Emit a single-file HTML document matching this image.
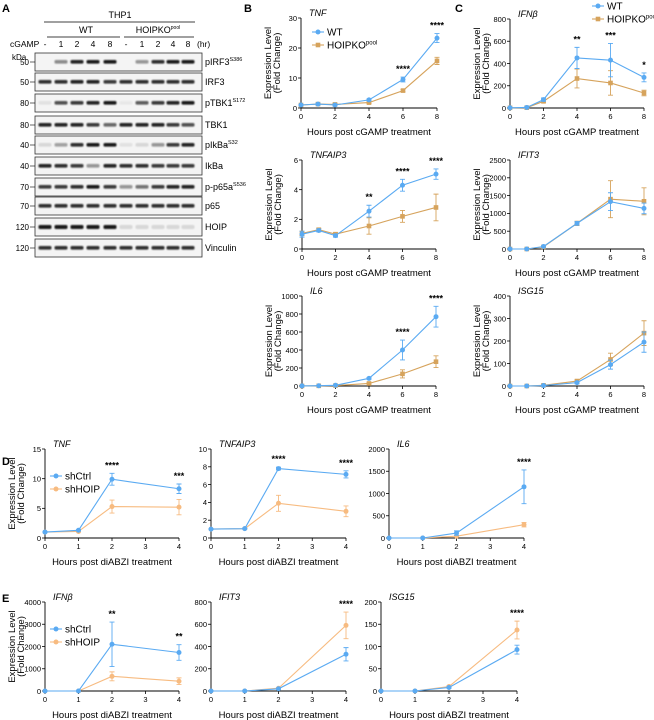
<!DOCTYPE html>
<html><head><meta charset="utf-8"><style>
html,body{margin:0;padding:0;background:#fff;}
svg{display:block;font-family:"Liberation Sans",Arial,sans-serif;}
</style></head><body>
<svg id="fig" width="654" height="720" viewBox="0 0 654 720" xmlns="http://www.w3.org/2000/svg">
<defs><filter id="bl" x="-20%" y="-50%" width="140%" height="200%"><feGaussianBlur stdDeviation="0.7"/></filter></defs>
<g font-weight="bold" font-size="11">
<text x="2" y="12">A</text><text x="244" y="12">B</text><text x="455" y="12">C</text><text x="2" y="465">D</text><text x="2" y="602">E</text>
</g>
<g id="blot"></g>
<g id="charts"></g>
</svg>
<script>
// ---- western blot data ----
const blotLabels=["pIRF3","IRF3","pTBK1","TBK1","pIkBa","IkBa","p-p65a","p65","HOIP","Vinculin"];
const blotSups=["S386","","S172","","S32","","S536","","",""];
const blotMW=["50","50","80","80","40","40","70","70","120","120"];
const blotIntensity=[
[0,.45,.9,.95,.95,0,.4,.85,.95,.95],
[.85,.85,.9,.9,.8,.85,.85,.85,.85,.85],
[.08,.7,.8,.9,.95,.05,.65,.8,.9,.95],
[.9,.9,.9,.8,.6,.9,.9,.9,.8,.7],
[.12,.35,.85,.95,.95,.08,.12,.4,.8,.9],
[.9,.85,.8,.4,.9,.85,.85,.8,.8,.8],
[.8,.8,.85,.95,.8,.4,.55,.8,.9,.9],
[.85,.85,.85,.85,.85,.85,.85,.85,.85,.85],
[.95,.95,.95,.95,.95,.12,.12,.12,.12,.12],
[.85,.85,.85,.85,.85,.85,.85,.85,.85,.85]];
const laneLabels=["-","1","2","4","8","-","1","2","4","8"];

const NS="http://www.w3.org/2000/svg";
function mk(tag,attrs,parent,txt){const e=document.createElementNS(NS,tag);for(const k in attrs)e.setAttribute(k,attrs[k]);if(txt!==undefined)e.textContent=txt;parent.appendChild(e);return e;}

const blot=document.getElementById('blot');
(function(){
 const lanes=[45,61,77,93,110,126,142,158,173,188];
 const rowsY=[53,73,94,116,136,157,178,197,218,239];
 let t=mk('text',{x:120,y:18,'font-size':9,'text-anchor':'middle'},blot,'THP1');
 
 mk('line',{x1:44,x2:195,y1:22,y2:22,stroke:'#000','stroke-width':0.7},blot);
 t=mk('text',{x:86,y:33,'font-size':9,'text-anchor':'middle'},blot,'WT');
 
 mk('line',{x1:47,x2:120,y1:37,y2:37,stroke:'#000','stroke-width':0.7},blot);
 t=mk('text',{x:158,y:33,'font-size':9,'text-anchor':'middle'},blot,'HOIPKO');
 
 mk('tspan',{'font-size':5,dy:-4},t,'pool');
 mk('line',{x1:124,x2:194,y1:37,y2:37,stroke:'#000','stroke-width':0.7},blot);
 t=mk('text',{x:10,y:47,'font-size':8.5},blot,'cGAMP');
 
 laneLabels.forEach((l,i)=>{const e=mk('text',{x:lanes[i],y:47,'font-size':8.5,'text-anchor':'middle'},blot,l);
  });
 mk('text',{x:197,y:47,'font-size':8.5},blot,'(hr)');
 mk('text',{x:12,y:60,'font-size':8},blot,'kDa');
 rowsY.forEach((y,r)=>{
  const g=mk('g',{},blot);
  
  
  mk('rect',{x:35,y:y,width:167,height:18,fill:'#f4f4f4',stroke:'#333','stroke-width':0.8},g);
  blotIntensity[r].forEach((v,i)=>{
   if(v<=0)return;
   const b=mk('rect',{x:lanes[i]-6.5,y:y+7,width:13,height:r==8?4:3.6,rx:1.5,fill:'#111',opacity:v,filter:'url(#bl)'},g);
   
  });
  mk('text',{x:29,y:y+12,'font-size':8,'text-anchor':'end'},g,blotMW[r]);
  mk('line',{x1:30,x2:35,y1:y+9,y2:y+9,stroke:'#000','stroke-width':0.6},g);
  const lt=mk('text',{x:205,y:y+12,'font-size':9},g,blotLabels[r]);
  if(blotSups[r])mk('tspan',{'font-size':5.5,dy:-4},lt,blotSups[r]);
 });
})();

// ---- chart data ----
const xCgamp=[0,1,2,4,6,8];
const xDiabzi=[0,1,2,4];
const tnfWT=[1,1.3,1,2.7,9.5,23.3], tnfWTErr=[.2,.3,.3,.3,.8,1.5];
const tnfKO=[1,1.3,1.2,1.8,5.8,15.7], tnfKOErr=[.2,.3,.3,.3,.4,1.2];
const tnfStars=["","","","","****","****"];
const ifnbWT=[2,5,75,450,430,275], ifnbWTErr=[5,5,15,95,150,40];
const ifnbKO=[2,3,60,265,225,135], ifnbKOErr=[3,3,10,85,110,25];
const ifnbStars=["","","","**","***","*"];
const tnfaip3WT=[1,1.25,.9,2.55,4.3,5.05], tnfaip3WTErr=[.2,.1,.1,.4,.4,.35];
const tnfaip3KO=[1.05,1.3,1.0,1.55,2.2,2.8], tnfaip3KOErr=[.15,.1,.1,.55,.4,.9];
const tnfaip3Stars=["","","","**","****","****"];
const ifit3WT=[0,0,70,720,1330,1140], ifit3WTErr=[10,10,20,50,250,150];
const ifit3KO=[0,0,60,720,1400,1340], ifit3KOErr=[10,10,20,60,520,380];
const il6WT=[1,3,8,85,400,770], il6WTErr=[2,2,4,10,110,115];
const il6KO=[1,2,5,28,135,270], il6KOErr=[2,2,3,8,45,65];
const il6Stars=["","","","","****","****"];
const isg15WT=[0,0,2,15,95,195], isg15WTErr=[1,1,2,5,20,45];
const isg15KO=[0,0,3,22,118,235], isg15KOErr=[1,1,2,5,28,55];
const dTnfCtrl=[1,1.3,9.9,8.3], dTnfCtrlErr=[.1,.1,1,.8];
const dTnfSh=[1,1.1,5.3,5.2], dTnfShErr=[.1,.1,1.1,1.3];
const dTnfStars=["","","****","***"];
const dTnfaip3Ctrl=[1,1.05,7.8,7.15], dTnfaip3CtrlErr=[.05,.05,.15,.4];
const dTnfaip3Sh=[1,1.05,3.9,3.0], dTnfaip3ShErr=[.05,.05,.9,.6];
const dTnfaip3Stars=["","","****","****"];
const dIl6Ctrl=[0,0,110,1150], dIl6CtrlErr=[5,5,50,380];
const dIl6Sh=[0,0,40,300], dIl6ShErr=[5,5,20,50];
const dIl6Stars=["","","","****"];
const eIfnbCtrl=[0,0,2100,1730], eIfnbCtrlErr=[10,10,1000,350];
const eIfnbSh=[0,0,660,440], eIfnbShErr=[10,10,200,150];
const eIfnbStars=["","","**","**"];
const eIfit3Ctrl=[0,0,20,330], eIfit3CtrlErr=[3,3,5,60];
const eIfit3Sh=[0,0,25,590], eIfit3ShErr=[3,3,5,120];
const eIfit3Stars=["","","","****"];
const eIsg15Ctrl=[0,0,8,93], eIsg15CtrlErr=[1,1,2,10];
const eIsg15Sh=[0,0,10,137], eIsg15ShErr=[1,1,2,20];
const eIsg15Stars=["","","","****"];
// tick labels
const ticksTnf=[0,10,20,30], ticksIfnb=[0,200,400,600,800], ticksTnfaip3=[0,2,4,6];
const ticksIfit3=[0,500,1000,1500,2000,2500], ticksIl6=[0,200,400,600,800,1000], ticksIsg15=[0,100,200,300,400];
const ticksX8=[0,2,4,6,8], ticksX4=[0,1,2,3,4];
const ticksDTnf=[0,5,10,15], ticksDTnfaip3=[0,2,4,6,8,10], ticksDIl6=[0,500,1000,1500,2000];
const ticksEIfnb=[0,1000,2000,3000,4000], ticksEIfit3=[0,200,400,600,800], ticksEIsg15=[0,50,100,150,200];

const BLUE="#5aaaf2", TAN="#d6a35c", ORANGE="#f7bb80";
const charts=document.getElementById('charts');

function chart(c){
 const g=mk('g',{},charts);
 
 
 const xs=v=>c.x0+(v-c.xs[0])/(c.xs[c.xs.length-1]-c.xs[0])*(c.x1-c.x0);
 const ys=v=>c.yb-(v/c.ymax)*(c.yb-c.yt);
 const ax=mk('path',{d:`M${c.x0},${c.yt}V${c.yb}H${c.x1}`,fill:'none',stroke:'#000','stroke-width':0.9},g);
 
 c.yticks.forEach(v=>{const y=ys(v);
  mk('line',{x1:c.x0-3,x2:c.x0,y1:y,y2:y,stroke:'#000','stroke-width':0.8},g);
  const t=mk('text',{x:c.x0-4,y:y+2.8,'font-size':7.5,'text-anchor':'end'},g,v);
  });
 c.xticks.forEach(v=>{const x=xs(v);
  mk('line',{x1:x,x2:x,y1:c.yb,y2:c.yb+3,stroke:'#000','stroke-width':0.8},g);
  const t=mk('text',{x:x,y:c.yb+11,'font-size':7.5,'text-anchor':'middle'},g,v);
  });
 let t=mk('text',{x:(c.x0+c.x1)/2,y:c.yb+27,'font-size':9.5,'text-anchor':'middle'},g,c.xlabel);
 
 t=mk('text',{x:c.x0+8,y:c.yt-2,'font-size':9,'font-style':'italic'},g,c.title);
 
 if(c.ytitle){const cy=(c.yt+c.yb)/2;
  t=mk('text',{transform:`translate(${c.x0-30},${cy}) rotate(-90)`,'font-size':9.5,'text-anchor':'middle'},g,'Expression Level');
  
  mk('text',{transform:`translate(${c.x0-21},${cy}) rotate(-90)`,'font-size':9.5,'text-anchor':'middle'},g,'(Fold Change)');}
 c.series.slice().reverse().forEach(s=>{
  const sg=mk('g',{},g);
  
  const pts=s.vals.map((v,i)=>[xs(c.xs[i]),ys(v)]);
  const ln=mk('polyline',{points:pts.map(p=>p.join(',')).join(' '),fill:'none',stroke:s.color,'stroke-width':1.1},sg);
  
  s.vals.forEach((v,i)=>{const x=xs(c.xs[i]),e=s.err[i];
   const y1=ys(v+e),y2=ys(Math.max(0,v-e));
   mk('path',{d:`M${x},${y1}V${y2}M${x-2.5},${y1}H${x+2.5}M${x-2.5},${y2}H${x+2.5}`,stroke:s.color,'stroke-width':0.9,fill:'none'},sg);
   let m;
   if(s.shape==='sq')m=mk('rect',{x:x-2.3,y:ys(v)-2.3,width:4.6,height:4.6,fill:s.color},sg);
   else m=mk('circle',{cx:x,cy:ys(v),r:2.5,fill:s.color},sg);
   
  });
 });
 if(c.stars)c.stars.forEach((s,i)=>{if(!s)return;
  let mx=-1e9;c.series.forEach(se=>{mx=Math.max(mx,se.vals[i]+se.err[i]);});
  const st=mk('text',{x:xs(c.xs[i]),y:ys(mx)-5,'font-size':9,'font-weight':'bold','text-anchor':'middle'},g,s);
  });
 if(c.legend){c.series.forEach((s,i)=>{const lx=c.legend[0],ly=c.legend[1]+i*13;
  const lg=mk('g',{},g);
  mk('line',{x1:lx,x2:lx+12,y1:ly,y2:ly,stroke:s.color,'stroke-width':1.1},lg);
  if(s.shape==='sq')mk('rect',{x:lx+3.7,y:ly-2.3,width:4.6,height:4.6,fill:s.color},lg);else mk('circle',{cx:lx+6,cy:ly,r:2.5,fill:s.color},lg);
  const lt=mk('text',{x:lx+15,y:ly+3.5,'font-size':10},lg,s.label);
  if(s.sup)mk('tspan',{'font-size':6,dy:-4},lt,s.sup);});}
}
const XC="Hours post cGAMP treatment", XD="Hours post diABZI treatment";
function bc(a,ae,b,be){return [{key:'wt',label:'WT',vals:a,err:ae,color:BLUE,shape:'c'},{key:'hoipko',label:'HOIPKO',sup:'pool',vals:b,err:be,color:TAN,shape:'sq'}];}
function de(a,ae,b,be){return [{key:'shctrl',label:'shCtrl',vals:a,err:ae,color:BLUE,shape:'c'},{key:'shhoip',label:'shHOIP',vals:b,err:be,color:ORANGE,shape:'c'}];}
chart({name:'tnf',title:'TNF',x0:301,x1:437,yt:18,yb:108,ymax:30,xs:xCgamp,xticks:ticksX8,yticks:ticksTnf,xlabel:XC,ytitle:1,series:bc(tnfWT,tnfWTErr,tnfKO,tnfKOErr),stars:tnfStars,legend:[312,32]});
chart({name:'ifnb',title:'IFNβ',x0:510,x1:644,yt:19,yb:108,ymax:800,xs:xCgamp,xticks:ticksX8,yticks:ticksIfnb,xlabel:XC,ytitle:1,series:bc(ifnbWT,ifnbWTErr,ifnbKO,ifnbKOErr),stars:ifnbStars,legend:[592,6]});
chart({name:'tnfaip3',title:'TNFAIP3',x0:302,x1:436,yt:160,yb:249,ymax:6,xs:xCgamp,xticks:ticksX8,yticks:ticksTnfaip3,xlabel:XC,ytitle:1,series:bc(tnfaip3WT,tnfaip3WTErr,tnfaip3KO,tnfaip3KOErr),stars:tnfaip3Stars});
chart({name:'ifit3',title:'IFIT3',x0:510,x1:644,yt:160,yb:249,ymax:2500,xs:xCgamp,xticks:ticksX8,yticks:ticksIfit3,xlabel:XC,ytitle:1,series:bc(ifit3WT,ifit3WTErr,ifit3KO,ifit3KOErr)});
chart({name:'il6',title:'IL6',x0:302,x1:436,yt:296,yb:386,ymax:1000,xs:xCgamp,xticks:ticksX8,yticks:ticksIl6,xlabel:XC,ytitle:1,series:bc(il6WT,il6WTErr,il6KO,il6KOErr),stars:il6Stars});
chart({name:'isg15',title:'ISG15',x0:510,x1:644,yt:296,yb:386,ymax:400,xs:xCgamp,xticks:ticksX8,yticks:ticksIsg15,xlabel:XC,ytitle:1,series:bc(isg15WT,isg15WTErr,isg15KO,isg15KOErr)});
chart({name:'d-tnf',title:'TNF',x0:45,x1:179,yt:449,yb:538,ymax:15,xs:xDiabzi,xticks:ticksX4,yticks:ticksDTnf,xlabel:XD,ytitle:1,series:de(dTnfCtrl,dTnfCtrlErr,dTnfSh,dTnfShErr),stars:dTnfStars,legend:[50,476]});
chart({name:'d-tnfaip3',title:'TNFAIP3',x0:211,x1:346,yt:449,yb:538,ymax:10,xs:xDiabzi,xticks:ticksX4,yticks:ticksDTnfaip3,xlabel:XD,series:de(dTnfaip3Ctrl,dTnfaip3CtrlErr,dTnfaip3Sh,dTnfaip3ShErr),stars:dTnfaip3Stars});
chart({name:'d-il6',title:'IL6',x0:389,x1:524,yt:449,yb:538,ymax:2000,xs:xDiabzi,xticks:ticksX4,yticks:ticksDIl6,xlabel:XD,series:de(dIl6Ctrl,dIl6CtrlErr,dIl6Sh,dIl6ShErr),stars:dIl6Stars});
chart({name:'e-ifnb',title:'IFNβ',x0:45,x1:179,yt:602,yb:691,ymax:4000,xs:xDiabzi,xticks:ticksX4,yticks:ticksEIfnb,xlabel:XD,ytitle:1,series:de(eIfnbCtrl,eIfnbCtrlErr,eIfnbSh,eIfnbShErr),stars:eIfnbStars,legend:[50,629]});
chart({name:'e-ifit3',title:'IFIT3',x0:211,x1:346,yt:602,yb:691,ymax:800,xs:xDiabzi,xticks:ticksX4,yticks:ticksEIfit3,xlabel:XD,series:de(eIfit3Ctrl,eIfit3CtrlErr,eIfit3Sh,eIfit3ShErr),stars:eIfit3Stars});
chart({name:'e-isg15',title:'ISG15',x0:381,x1:517,yt:602,yb:691,ymax:200,xs:xDiabzi,xticks:ticksX4,yticks:ticksEIsg15,xlabel:XD,series:de(eIsg15Ctrl,eIsg15CtrlErr,eIsg15Sh,eIsg15ShErr),stars:eIsg15Stars});
</script>
</body></html>
